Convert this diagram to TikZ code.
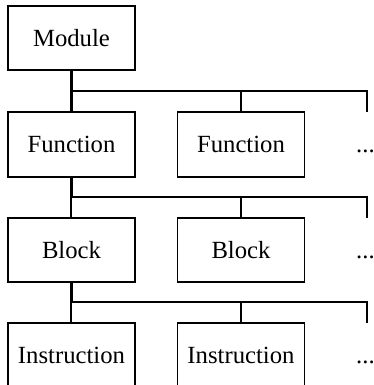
\documentclass[tikz,border=0pt]{standalone}
\usepackage{fontspec}
\setmainfont{Liberation Serif}
\begin{document}
\begin{tikzpicture}[x=1pt,y=-1pt,
  unit/.style={draw, line width=1.9pt, minimum width=127pt, minimum height=64.5pt,
    inner sep=0pt, font=\fontsize{24.7pt}{28pt}\selectfont,
    text height=16.8pt, text depth=0pt},
  more/.style={inner sep=0pt, anchor=west, font=\fontsize{24.7pt}{28pt}\selectfont,
    text height=16.8pt, text depth=0pt},
  trunk/.style={line width=3pt},
  bus/.style={line width=2pt},
  tick/.style={line width=2pt}]
\useasboundingbox (0,0) rectangle (374,385);
\clip (0,0) rectangle (374,385);

% boxes, one row per level of the hierarchy
\node[unit] (mod) at (71.5,38) {Module};
\node[unit] (f1)  at (71.5,144.5) {Function};
\node[unit] (f2)  at (241,144.5) {Function};
\node[more] (fm)  at (356,144.5) {...};
\node[unit] (b1)  at (71.5,250) {Block};
\node[unit] (b2)  at (241,250) {Block};
\node[more] (bm)  at (356,250) {...};
\node[unit] (i1)  at (71.5,355.5) {Instruction};
\node[unit] (i2)  at (241,355.5) {Instruction};
\node[more] (im)  at (356,355.5) {...};

% junction points on each bus
\coordinate (j1) at (71,91);
\coordinate (e1) at (367,91);
\coordinate (t1) at (367,112);
\coordinate (j2) at (71,197);
\coordinate (e2) at (367,197);
\coordinate (t2) at (367,218);
\coordinate (j3) at (71,302);
\coordinate (e3) at (367,302);
\coordinate (t3) at (367,323);

% Module -> Functions
\draw[trunk] (mod.south -| j1) -- (f1.north -| j1);
\draw[bus] (j1) -- (e1) -- (t1);
\draw[tick] (f2.north |- j1) -- (f2.north);

% Function -> Blocks
\draw[trunk] (f1.south -| j2) -- (j2);
\draw[tick] (j2) -- (b1.north -| j2);
\draw[bus] (j2) -- (e2) -- (t2);
\draw[tick] (b2.north |- j2) -- (b2.north);

% Block -> Instructions
\draw[trunk] (b1.south -| j3) -- (j3);
\draw[tick] (j3) -- (i1.north -| j3);
\draw[bus] (j3) -- (e3) -- (t3);
\draw[tick] (i2.north |- j3) -- (i2.north);
\end{tikzpicture}
\end{document}
